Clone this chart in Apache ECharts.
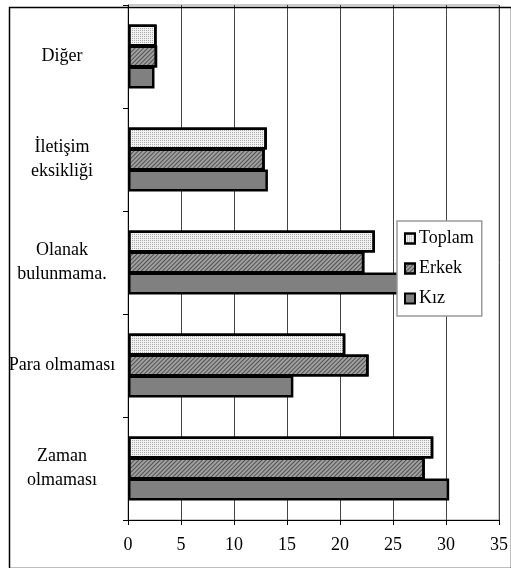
<!DOCTYPE html>
<html>
<head>
    <meta charset="utf-8">
    <script src="https://cdn.jsdelivr.net/npm/echarts@6/dist/echarts.min.js"></script>
</head>
<body style="margin:0;background:#fff">
    <div id="main" style="width: 511px;height:568px;"></div>
    <script type="text/javascript">

    // categories bottom -> top (as the y axis reads)
    var categories = ['Zaman\nolmaması', 'Para olmaması', 'Olanak\nbulunmama.', 'İletişim\neksikliği', 'Diğer'];
    var toplam = [28.8, 20.5, 23.3, 13.1, 2.7];
    var erkek = [28.0, 22.7, 22.3, 12.9, 2.75];
    var kiz = [30.3, 15.6, 25.6, 13.2, 2.5];
    var xTicks = [0, 35, 5]; // min, max, interval

    var font = '"Liberation Serif", "Times New Roman", serif';

    var myChart = echarts.init(document.getElementById('main'));

    function barSeries(name, data, color, decal) {
        return {
            name: name,
            type: 'bar',
            data: data,
            barWidth: 22,
            barGap: '-5%',
            itemStyle: {
                color: color,
                borderColor: '#000',
                borderWidth: 2.5,
                decal: decal
            },
            emphasis: {disabled: true}
        };
    }

    myChart.setOption({
        animation: false,
        textStyle: {fontFamily: font},
        grid: {
            left: 128,
            right: 9,
            top: 5,
            bottom: 48,
            show: true,
            borderColor: '#999',
            borderWidth: 1
        },
        legend: {
            orient: 'vertical',
            left: 397,
            top: 221,
            padding: [8, 8, 8, 7],
            itemGap: 11,
            itemWidth: 10,
            itemHeight: 10,
            icon: 'rect',
            itemStyle: {borderColor: '#000', borderWidth: 2},
            backgroundColor: '#fff',
            borderColor: '#999',
            borderWidth: 1.5,
            textStyle: {fontFamily: font, fontSize: 18, color: '#000', lineHeight: 19, padding: [0, 0, 0, -1]},
            data: ['Toplam', 'Erkek', 'Kız']
        },
        xAxis: {
            type: 'value',
            min: xTicks[0],
            max: xTicks[1],
            interval: xTicks[2],
            axisLine: {show: true, lineStyle: {color: '#000', width: 1}},
            axisTick: {show: true, length: 5, lineStyle: {color: '#000'}},
            axisLabel: {fontFamily: font, fontSize: 18, color: '#000', margin: 16},
            splitLine: {lineStyle: {color: '#444', width: 1}}
        },
        yAxis: {
            type: 'category',
            data: categories,
            axisLine: {show: true, lineStyle: {color: '#000', width: 1}},
            axisTick: {show: true, length: 5, lineStyle: {color: '#000'}},
            axisLabel: {fontFamily: font, fontSize: 18, color: '#000', align: 'center', margin: 66, lineHeight: 24}
        },
        series: [
            barSeries('Toplam', toplam, '#f2f2f2', {
                symbol: 'rect',
                symbolSize: 1,
                color: 'rgba(0,0,0,0.3)',
                dashArrayX: [1, 1],
                dashArrayY: [1, 1]
            }),
            barSeries('Erkek', erkek, '#a0a0a0', {
                symbol: 'rect',
                color: 'rgba(0,0,0,0.5)',
                dashArrayX: [1, 0],
                dashArrayY: [1, 2],
                rotation: -Math.PI / 4
            }),
            barSeries('Kız', kiz, '#808080', null)
        ],
        graphic: [{
            type: 'rect',
            left: 7,
            top: 5,
            shape: {width: 502, height: 561},
            style: {fill: null, stroke: '#000', lineWidth: 1.5},
            silent: true,
            z: 100
        }]
    });
    </script>
</body>
</html>
